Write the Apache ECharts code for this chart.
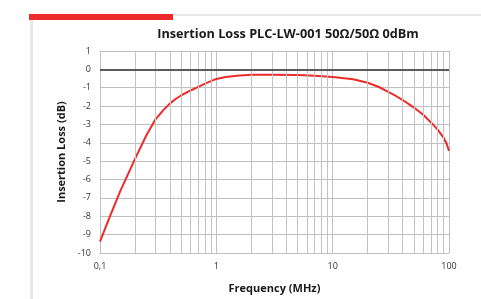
<!DOCTYPE html>
<html>
<head>
<meta charset="utf-8">
<script src="https://cdn.jsdelivr.net/npm/echarts@6/dist/echarts.min.js"></script>
<style>
  html, body { margin: 0; padding: 0; background: #fff; }
  #main { width: 481px; height: 299px; }
</style>
</head>
<body>
<div id="main"></div>
<script>
// frequency (MHz) and insertion loss (dB)
const freq = [0.1, 0.12, 0.15, 0.2, 0.25, 0.3, 0.35, 0.4, 0.45, 0.5, 0.6, 0.7, 0.8, 0.9, 1, 1.2, 1.5, 2, 3, 5, 7, 10, 12, 15, 20, 25, 30, 35, 40, 50, 60, 70, 80, 90, 95, 100];
const loss = [-9.38, -8.1, -6.6, -4.87, -3.6, -2.72, -2.22, -1.85, -1.6, -1.41, -1.15, -0.95, -0.78, -0.64, -0.52, -0.42, -0.35, -0.3, -0.29, -0.31, -0.35, -0.42, -0.47, -0.54, -0.73, -0.96, -1.22, -1.45, -1.67, -2.08, -2.47, -2.89, -3.28, -3.73, -4.02, -4.44];
const xTicks = { 0.1: '0,1', 1: '1', 10: '10', 100: '100' };
const minorGrid = [0.2, 0.3, 0.4, 0.5, 0.6, 0.7, 0.8, 0.9, 2, 3, 4, 5, 6, 7, 8, 9, 20, 30, 40, 50, 60, 70, 80, 90];

const font = 'Open Sans';
const chart = echarts.init(document.getElementById('main'));

chart.setOption({
  animation: false,
  title: {
    text: 'Insertion Loss PLC-LW-001 50Ω/50Ω 0dBm',
    left: 283, top: 23, textAlign: 'center',
    textStyle: { fontFamily: font, fontSize: 12.7, fontWeight: 'bold', color: '#1a1a1a' }
  },
  graphic: [
    { type: 'rect', shape: { x: 173, y: 14, width: 308, height: 2 }, style: { fill: '#e8e8e8' } },
    { type: 'rect', shape: { x: 30, y: 20, width: 3, height: 279 }, style: { fill: '#e8e8e8' } },
    { type: 'rect', shape: { x: 29, y: 14, width: 144, height: 6 }, style: { fill: '#ee2a2a' } }
  ],
  grid: { left: 100, right: 32, top: 51, bottom: 45 },
  xAxis: {
    type: 'log', logBase: 10, min: 0.1, max: 100,
    name: 'Frequency (MHz)', nameLocation: 'middle', nameGap: 30,
    nameTextStyle: { fontFamily: font, fontSize: 11, fontWeight: 'bold', color: '#1a1a1a' },
    axisLine: { show: true, onZero: false, lineStyle: { color: '#bfbfbf' } },
    axisTick: { show: false },
    axisLabel: {
      fontFamily: font, fontSize: 9, color: '#333', margin: 9,
      formatter: v => xTicks[v] !== undefined ? xTicks[v] : ''
    },
    splitLine: { show: true, lineStyle: { color: '#bfbfbf', width: 1 } }
  },
  yAxis: {
    type: 'value', min: -10, max: 1, interval: 1,
    name: 'Insertion Loss (dB)', nameLocation: 'middle', nameGap: 30,
    nameTextStyle: { fontFamily: font, fontSize: 11, fontWeight: 'bold', color: '#1a1a1a' },
    axisLine: { show: true, lineStyle: { color: '#bfbfbf' } },
    axisTick: { show: false },
    axisLabel: { fontFamily: font, fontSize: 9, color: '#333', margin: 9 },
    splitLine: { show: true, lineStyle: { color: '#bfbfbf', width: 1 } }
  },
  series: [
    {
      type: 'line',
      data: minorGrid.map(f => [f, null]),
      silent: true,
      markLine: {
        silent: true, symbol: 'none', animation: false,
        label: { show: false },
        lineStyle: { color: '#c4c4c4', width: 1, type: 'solid' },
        data: minorGrid.map(f => ({ xAxis: f }))
      }
    },
    {
      type: 'line',
      data: [],
      silent: true,
      markLine: {
        silent: true, symbol: 'none', animation: false,
        label: { show: false },
        lineStyle: { color: '#5a5a5a', width: 2, type: 'solid' },
        data: [{ yAxis: 0 }]
      }
    },
    {
      type: 'line',
      data: freq.map((f, i) => [f, loss[i]]),
      smooth: false,
      showSymbol: false,
      lineStyle: { color: '#ee2a2a', width: 2, join: 'round' }
    }
  ]
});
</script>
</body>
</html>
